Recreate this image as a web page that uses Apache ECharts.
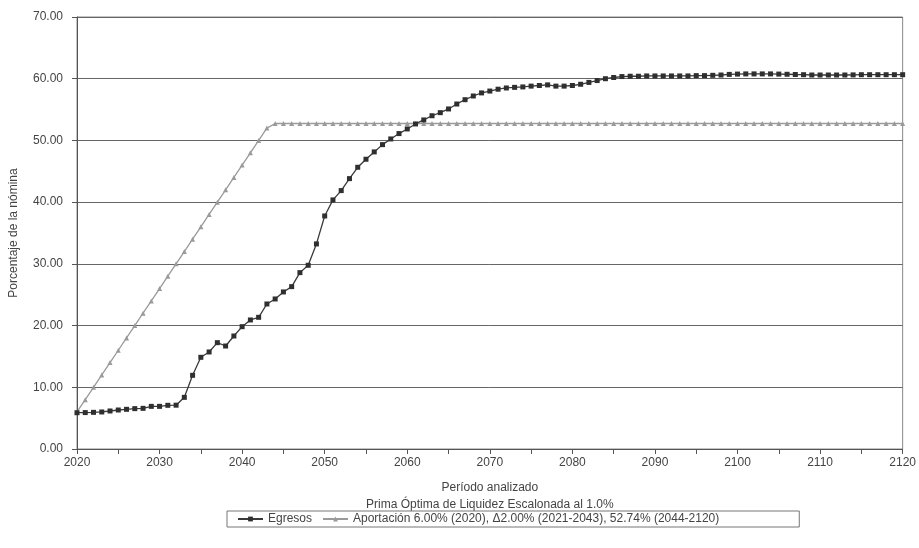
<!DOCTYPE html>
<html>
<head>
<meta charset="utf-8">
<script src="https://cdn.jsdelivr.net/npm/echarts@6/dist/echarts.min.js"></script>
<style>html,body{margin:0;padding:0;background:#fff}#c{width:919px;height:548px}</style>
</head>
<body>
<div id="c"></div>
<script>
const years = [];
for (let y = 2020; y <= 2120; y++) years.push(y);

const egresos = [
  5.88, 5.90, 5.94, 6.00, 6.16, 6.32, 6.43, 6.54, 6.59, 6.91,
  6.91, 7.08, 7.10, 8.37, 11.94, 14.86, 15.72, 17.23, 16.69, 18.31,
  19.82, 20.91, 21.34, 23.50, 24.31, 25.45, 26.31, 28.58, 29.77, 33.23,
  37.76, 40.36, 41.87, 43.81, 45.65, 46.95, 48.14, 49.32, 50.24, 51.11,
  51.86, 52.67, 53.32, 54.00, 54.50, 55.10, 55.90, 56.60, 57.20, 57.70,
  58.00, 58.30, 58.50, 58.60, 58.67, 58.80, 58.90, 59.00, 58.80, 58.80,
  58.90, 59.10, 59.40, 59.70, 60.00, 60.20, 60.35, 60.40, 60.40, 60.45,
  60.45, 60.45, 60.45, 60.45, 60.45, 60.50, 60.50, 60.55, 60.60, 60.70,
  60.75, 60.78, 60.78, 60.78, 60.78, 60.75, 60.72, 60.68, 60.65, 60.60,
  60.60, 60.60, 60.60, 60.60, 60.62, 60.65, 60.65, 60.65, 60.65, 60.65,
  60.65
];

const aportacion = [
  6.00, 8.00, 10.00, 12.00, 14.00, 16.00, 18.00, 20.00, 22.00, 24.00,
  26.00, 28.00, 30.00, 32.00, 34.00, 36.00, 38.00, 40.00, 42.00, 44.00,
  46.00, 48.00, 50.00, 52.00, 52.74, 52.74, 52.74, 52.74, 52.74, 52.74,
  52.74, 52.74, 52.74, 52.74, 52.74, 52.74, 52.74, 52.74, 52.74, 52.74,
  52.74, 52.74, 52.74, 52.74, 52.74, 52.74, 52.74, 52.74, 52.74, 52.74,
  52.74, 52.74, 52.74, 52.74, 52.74, 52.74, 52.74, 52.74, 52.74, 52.74,
  52.74, 52.74, 52.74, 52.74, 52.74, 52.74, 52.74, 52.74, 52.74, 52.74,
  52.74, 52.74, 52.74, 52.74, 52.74, 52.74, 52.74, 52.74, 52.74, 52.74,
  52.74, 52.74, 52.74, 52.74, 52.74, 52.74, 52.74, 52.74, 52.74, 52.74,
  52.74, 52.74, 52.74, 52.74, 52.74, 52.74, 52.74, 52.74, 52.74, 52.74,
  52.74
];

const seriesNames = ['Egresos', 'Aportación 6.00% (2020), Δ2.00% (2021-2043), 52.74% (2044-2120)'];
const xAxisName = 'Período analizado\nPrima Óptima de Liquidez Escalonada al 1.0%';
const yAxisName = 'Porcentaje de la nómina';

const font = '"Liberation Sans", Arial, sans-serif';
const chart = echarts.init(document.getElementById('c'), null, {renderer: 'canvas'});
chart.setOption({
  animation: false,
  backgroundColor: '#fff',
  textStyle: {fontFamily: font, color: '#444'},
  grid: {left: 77, right: 16, top: 17, bottom: 99, show: true, borderColor: '#888', borderWidth: 1},
  legend: {
    left: 227, bottom: 21,
    borderColor: '#777', borderWidth: 1, padding: [2, 80, 2, 10],
    itemWidth: 25, itemHeight: 6, itemGap: 10,
    textStyle: {fontFamily: font, fontSize: 12, color: '#444'},
    data: seriesNames
  },
  xAxis: {
    type: 'value', min: 2020, max: 2120, interval: 10,
    name: xAxisName, nameLocation: 'middle', nameGap: 30,
    nameTextStyle: {fontFamily: font, fontSize: 12, color: '#444', lineHeight: 17},
    axisLine: {show: true, lineStyle: {color: '#555', width: 1}},
    axisTick: {show: true, length: 5, lineStyle: {color: '#555'}},
    minorTick: {show: true, splitNumber: 2, length: 5, lineStyle: {color: '#555'}},
    axisLabel: {fontFamily: font, fontSize: 12, color: '#444', margin: 8,
      formatter: v => String(v)},
    splitLine: {show: false}
  },
  yAxis: {
    type: 'value', min: 0, max: 70, interval: 10,
    name: yAxisName, nameLocation: 'middle', nameGap: 57, nameRotate: 90,
    nameTextStyle: {fontFamily: font, fontSize: 12, color: '#444'},
    axisLine: {show: true, lineStyle: {color: '#555', width: 1}},
    axisTick: {show: true, length: 5, inside: false, lineStyle: {color: '#555'}},
    axisLabel: {fontFamily: font, fontSize: 12, color: '#444', margin: 14,
      formatter: v => v.toFixed(2)},
    splitLine: {show: true, lineStyle: {color: '#666', width: 1}}
  },
  series: [
    {
      name: seriesNames[0], type: 'line',
      data: years.map((y, i) => [y, egresos[i]]),
      symbol: 'rect', symbolSize: 5,
      lineStyle: {color: '#3a3a3a', width: 1.3},
      itemStyle: {color: '#2f2f2f'},
      z: 3
    },
    {
      name: seriesNames[1], type: 'line',
      data: years.map((y, i) => [y, aportacion[i]]),
      symbol: 'triangle', symbolSize: 5,
      lineStyle: {color: '#9a9a9a', width: 1.3},
      itemStyle: {color: '#9a9a9a'},
      z: 2
    }
  ]
});
</script>
</body>
</html>
